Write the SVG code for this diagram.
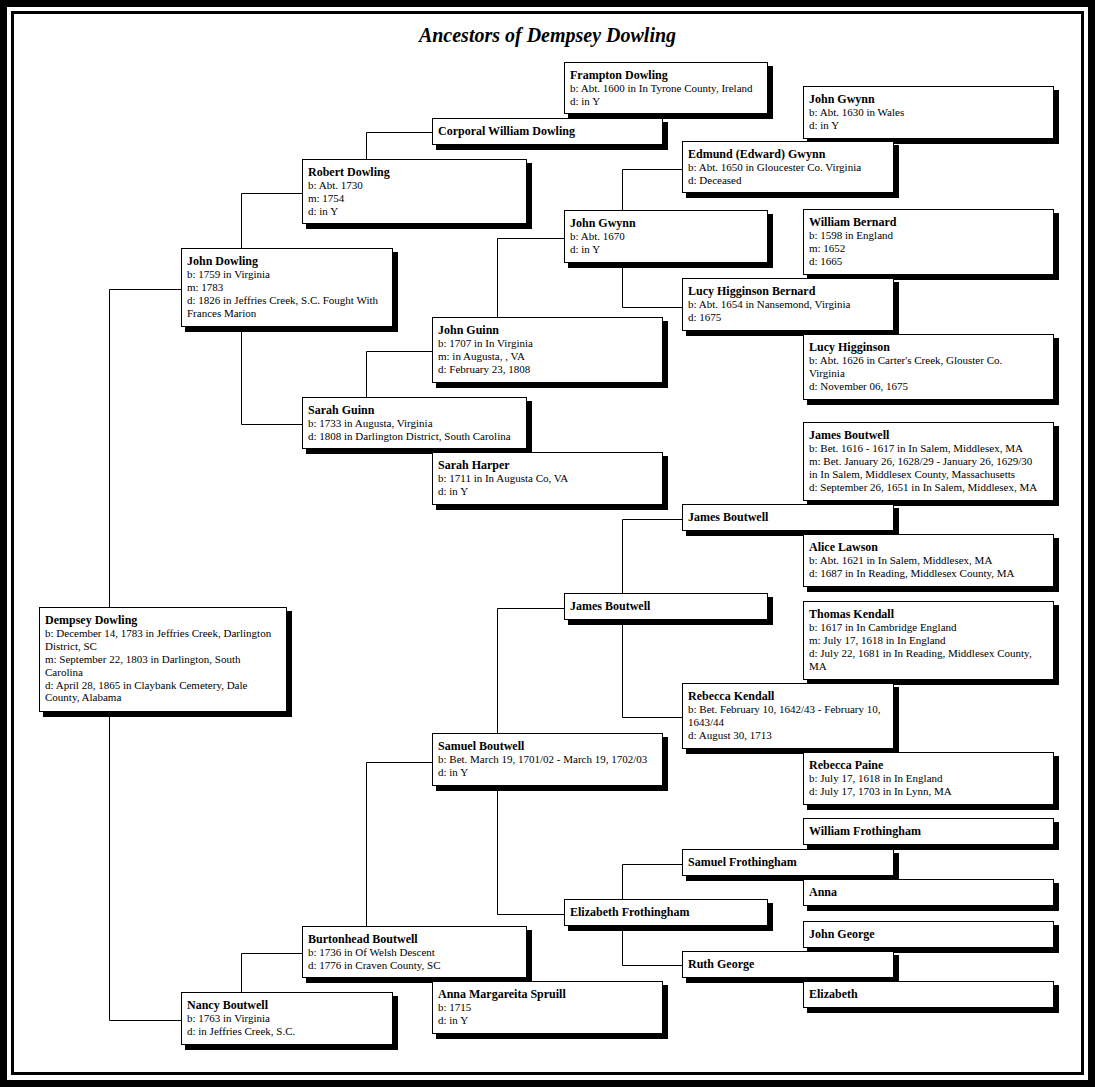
<svg xmlns="http://www.w3.org/2000/svg" width="1095" height="1087" viewBox="0 0 1095 1087">
<style>
.sh{fill:#000}
.bx{fill:#fff;stroke:#000;stroke-width:1}
.nm{font-family:"Liberation Serif","Times New Roman",serif;font-size:12px;font-weight:bold;fill:#000}
.tx{font-family:"Liberation Serif","Times New Roman",serif;font-size:11px;fill:#000}
.cn path{stroke:#000;stroke-width:1;fill:none}
.title{font-family:"Liberation Serif","Times New Roman",serif;font-size:20px;font-weight:bold;font-style:italic;fill:#000}
</style>
<rect x="0" y="0" width="1095" height="1087" fill="#fff"/>
<rect x="3.5" y="3.5" width="1088" height="1080" fill="none" stroke="#000" stroke-width="7"/>
<rect x="12.5" y="12.5" width="1070" height="1061" fill="none" stroke="#000" stroke-width="3"/>
<text class="title" x="547.5" y="42" text-anchor="middle">Ancestors of Dempsey Dowling</text>

<g id="connectors" class="cn">
<path d="M109.5 607V289.5H181"/>
<path d="M109.5 711V1020.5H182"/>
<path d="M241.5 248V193.5H302"/>
<path d="M241.5 326V424.5H302"/>
<path d="M366.5 159V132.5H432"/>
<path d="M366.5 397V351.5H432"/>
<path d="M497.5 317V238.5H564"/>
<path d="M622.5 210V169.5H682"/>
<path d="M622.5 262V307.5H682"/>
<path d="M366.5 926V762.5H432"/>
<path d="M497.5 733V608.5H564"/>
<path d="M497.5 785V914.5H564"/>
<path d="M622.5 593V519.5H682"/>
<path d="M622.5 619V717.5H682"/>
<path d="M622.5 899V864.5H682"/>
<path d="M622.5 925V965.5H682"/>
<path d="M241.5 992V953.5H302"/>
</g>

<g id="frampton-dowling" transform="translate(564,62)">
<rect class="sh" x="4" y="4" width="205" height="53"/><rect class="bx" x="0.5" y="0.5" width="203" height="51"/>
<text class="nm" x="6" y="17">Frampton Dowling</text>
<text class="tx" x="6" y="29.9">b: Abt. 1600 in In Tyrone County, Ireland</text>
<text class="tx" x="6" y="42.8">d: in Y</text>
</g>

<g id="corporal-william-dowling" transform="translate(432,118)">
<rect class="sh" x="4" y="4" width="232" height="28"/><rect class="bx" x="0.5" y="0.5" width="230" height="26"/>
<text class="nm" x="6" y="17">Corporal William Dowling</text>
</g>

<g id="john-gwynn-1630" transform="translate(803,86)">
<rect class="sh" x="4" y="4" width="252" height="54"/><rect class="bx" x="0.5" y="0.5" width="250" height="52"/>
<text class="nm" x="6" y="17">John Gwynn</text>
<text class="tx" x="6" y="29.9">b: Abt. 1630 in Wales</text>
<text class="tx" x="6" y="42.8">d: in Y</text>
</g>

<g id="edmund-gwynn" transform="translate(682,141)">
<rect class="sh" x="4" y="4" width="213" height="53"/><rect class="bx" x="0.5" y="0.5" width="211" height="51"/>
<text class="nm" x="6" y="17">Edmund (Edward) Gwynn</text>
<text class="tx" x="6" y="29.9">b: Abt. 1650 in Gloucester Co. Virginia</text>
<text class="tx" x="6" y="42.8">d: Deceased</text>
</g>

<g id="robert-dowling" transform="translate(302,159)">
<rect class="sh" x="4" y="4" width="226" height="66"/><rect class="bx" x="0.5" y="0.5" width="224" height="64"/>
<text class="nm" x="6" y="17">Robert Dowling</text>
<text class="tx" x="6" y="29.9">b: Abt. 1730</text>
<text class="tx" x="6" y="42.8">m: 1754</text>
<text class="tx" x="6" y="55.7">d: in Y</text>
</g>

<g id="william-bernard" transform="translate(803,209)">
<rect class="sh" x="4" y="4" width="252" height="67"/><rect class="bx" x="0.5" y="0.5" width="250" height="65"/>
<text class="nm" x="6" y="17">William Bernard</text>
<text class="tx" x="6" y="29.9">b: 1598 in England</text>
<text class="tx" x="6" y="42.8">m: 1652</text>
<text class="tx" x="6" y="55.7">d: 1665</text>
</g>

<g id="john-gwynn-1670" transform="translate(564,210)">
<rect class="sh" x="4" y="4" width="205" height="54"/><rect class="bx" x="0.5" y="0.5" width="203" height="52"/>
<text class="nm" x="6" y="17">John Gwynn</text>
<text class="tx" x="6" y="29.9">b: Abt. 1670</text>
<text class="tx" x="6" y="42.8">d: in Y</text>
</g>

<g id="john-dowling" transform="translate(181,248)">
<rect class="sh" x="4" y="4" width="213" height="80"/><rect class="bx" x="0.5" y="0.5" width="211" height="78"/>
<text class="nm" x="6" y="17">John Dowling</text>
<text class="tx" x="6" y="29.9">b: 1759 in Virginia</text>
<text class="tx" x="6" y="42.8">m: 1783</text>
<text class="tx" x="6" y="55.7">d: 1826 in Jeffries Creek, S.C. Fought With</text>
<text class="tx" x="6" y="68.6">Frances Marion</text>
</g>

<g id="lucy-higginson-bernard" transform="translate(682,278)">
<rect class="sh" x="4" y="4" width="213" height="54"/><rect class="bx" x="0.5" y="0.5" width="211" height="52"/>
<text class="nm" x="6" y="17">Lucy Higginson Bernard</text>
<text class="tx" x="6" y="29.9">b: Abt. 1654 in Nansemond, Virginia</text>
<text class="tx" x="6" y="42.8">d: 1675</text>
</g>

<g id="john-guinn" transform="translate(432,317)">
<rect class="sh" x="4" y="4" width="232" height="67"/><rect class="bx" x="0.5" y="0.5" width="230" height="65"/>
<text class="nm" x="6" y="17">John Guinn</text>
<text class="tx" x="6" y="29.9">b: 1707 in In Virginia</text>
<text class="tx" x="6" y="42.8">m: in Augusta, , VA</text>
<text class="tx" x="6" y="55.7">d: February 23, 1808</text>
</g>

<g id="lucy-higginson" transform="translate(803,334)">
<rect class="sh" x="4" y="4" width="252" height="67"/><rect class="bx" x="0.5" y="0.5" width="250" height="65"/>
<text class="nm" x="6" y="17">Lucy Higginson</text>
<text class="tx" x="6" y="29.9">b: Abt. 1626 in Carter's Creek, Glouster Co.</text>
<text class="tx" x="6" y="42.8">Virginia</text>
<text class="tx" x="6" y="55.7">d: November 06, 1675</text>
</g>

<g id="sarah-guinn" transform="translate(302,397)">
<rect class="sh" x="4" y="4" width="226" height="53"/><rect class="bx" x="0.5" y="0.5" width="224" height="51"/>
<text class="nm" x="6" y="17">Sarah Guinn</text>
<text class="tx" x="6" y="29.9">b: 1733 in Augusta, Virginia</text>
<text class="tx" x="6" y="42.8">d: 1808 in Darlington District, South Carolina</text>
</g>

<g id="james-boutwell-1616" transform="translate(803,422)">
<rect class="sh" x="4" y="4" width="252" height="80"/><rect class="bx" x="0.5" y="0.5" width="250" height="78"/>
<text class="nm" x="6" y="17">James Boutwell</text>
<text class="tx" x="6" y="29.9">b: Bet. 1616 - 1617 in In Salem, Middlesex, MA</text>
<text class="tx" x="6" y="42.8">m: Bet. January 26, 1628/29 - January 26, 1629/30</text>
<text class="tx" x="6" y="55.7">in In Salem, Middlesex County, Massachusetts</text>
<text class="tx" x="6" y="68.6">d: September 26, 1651 in In Salem, Middlesex, MA</text>
</g>

<g id="sarah-harper" transform="translate(432,452)">
<rect class="sh" x="4" y="4" width="232" height="54"/><rect class="bx" x="0.5" y="0.5" width="230" height="52"/>
<text class="nm" x="6" y="17">Sarah Harper</text>
<text class="tx" x="6" y="29.9">b: 1711 in In Augusta Co, VA</text>
<text class="tx" x="6" y="42.8">d: in Y</text>
</g>

<g id="james-boutwell-gen3" transform="translate(682,504)">
<rect class="sh" x="4" y="4" width="213" height="28"/><rect class="bx" x="0.5" y="0.5" width="211" height="26"/>
<text class="nm" x="6" y="17">James Boutwell</text>
</g>

<g id="alice-lawson" transform="translate(803,534)">
<rect class="sh" x="4" y="4" width="252" height="54"/><rect class="bx" x="0.5" y="0.5" width="250" height="52"/>
<text class="nm" x="6" y="17">Alice Lawson</text>
<text class="tx" x="6" y="29.9">b: Abt. 1621  in In Salem, Middlesex, MA</text>
<text class="tx" x="6" y="42.8">d: 1687 in In Reading, Middlesex County, MA</text>
</g>

<g id="james-boutwell-gen2" transform="translate(564,593)">
<rect class="sh" x="4" y="4" width="205" height="28"/><rect class="bx" x="0.5" y="0.5" width="203" height="26"/>
<text class="nm" x="6" y="17">James Boutwell</text>
</g>

<g id="thomas-kendall" transform="translate(803,601)">
<rect class="sh" x="4" y="4" width="252" height="80"/><rect class="bx" x="0.5" y="0.5" width="250" height="78"/>
<text class="nm" x="6" y="17">Thomas Kendall</text>
<text class="tx" x="6" y="29.9">b: 1617 in In Cambridge England</text>
<text class="tx" x="6" y="42.8">m: July 17, 1618 in In England</text>
<text class="tx" x="6" y="55.7">d: July 22, 1681 in In Reading, Middlesex County,</text>
<text class="tx" x="6" y="68.6">MA</text>
</g>

<g id="dempsey-dowling" transform="translate(39,607)">
<rect class="sh" x="4" y="4" width="249" height="106"/><rect class="bx" x="0.5" y="0.5" width="247" height="104"/>
<text class="nm" x="6" y="17">Dempsey Dowling</text>
<text class="tx" x="6" y="29.9">b: December 14, 1783 in Jeffries Creek, Darlington</text>
<text class="tx" x="6" y="42.8">District, SC</text>
<text class="tx" x="6" y="55.7">m: September 22, 1803 in Darlington, South</text>
<text class="tx" x="6" y="68.6">Carolina</text>
<text class="tx" x="6" y="81.5">d: April 28, 1865 in Claybank Cemetery, Dale</text>
<text class="tx" x="6" y="94.4">County, Alabama</text>
</g>

<g id="rebecca-kendall" transform="translate(682,683)">
<rect class="sh" x="4" y="4" width="213" height="67"/><rect class="bx" x="0.5" y="0.5" width="211" height="65"/>
<text class="nm" x="6" y="17">Rebecca Kendall</text>
<text class="tx" x="6" y="29.9">b: Bet. February 10, 1642/43 - February 10,</text>
<text class="tx" x="6" y="42.8">1643/44</text>
<text class="tx" x="6" y="55.7">d: August 30, 1713</text>
</g>

<g id="samuel-boutwell" transform="translate(432,733)">
<rect class="sh" x="4" y="4" width="232" height="54"/><rect class="bx" x="0.5" y="0.5" width="230" height="52"/>
<text class="nm" x="6" y="17">Samuel Boutwell</text>
<text class="tx" x="6" y="29.9">b: Bet. March 19, 1701/02 - March 19, 1702/03</text>
<text class="tx" x="6" y="42.8">d: in Y</text>
</g>

<g id="rebecca-paine" transform="translate(803,752)">
<rect class="sh" x="4" y="4" width="252" height="54"/><rect class="bx" x="0.5" y="0.5" width="250" height="52"/>
<text class="nm" x="6" y="17">Rebecca Paine</text>
<text class="tx" x="6" y="29.9">b: July 17, 1618 in In England</text>
<text class="tx" x="6" y="42.8">d: July 17, 1703 in In Lynn, MA</text>
</g>

<g id="william-frothingham" transform="translate(803,818)">
<rect class="sh" x="4" y="4" width="252" height="28"/><rect class="bx" x="0.5" y="0.5" width="250" height="26"/>
<text class="nm" x="6" y="17">William Frothingham</text>
</g>

<g id="samuel-frothingham" transform="translate(682,849)">
<rect class="sh" x="4" y="4" width="213" height="28"/><rect class="bx" x="0.5" y="0.5" width="211" height="26"/>
<text class="nm" x="6" y="17">Samuel Frothingham</text>
</g>

<g id="anna" transform="translate(803,879)">
<rect class="sh" x="4" y="4" width="252" height="28"/><rect class="bx" x="0.5" y="0.5" width="250" height="26"/>
<text class="nm" x="6" y="17">Anna</text>
</g>

<g id="elizabeth-frothingham" transform="translate(564,899)">
<rect class="sh" x="4" y="4" width="205" height="28"/><rect class="bx" x="0.5" y="0.5" width="203" height="26"/>
<text class="nm" x="6" y="17">Elizabeth Frothingham</text>
</g>

<g id="john-george" transform="translate(803,921)">
<rect class="sh" x="4" y="4" width="252" height="28"/><rect class="bx" x="0.5" y="0.5" width="250" height="26"/>
<text class="nm" x="6" y="17">John George</text>
</g>

<g id="burtonhead-boutwell" transform="translate(302,926)">
<rect class="sh" x="4" y="4" width="226" height="53"/><rect class="bx" x="0.5" y="0.5" width="224" height="51"/>
<text class="nm" x="6" y="17">Burtonhead Boutwell</text>
<text class="tx" x="6" y="29.9">b: 1736 in Of Welsh Descent</text>
<text class="tx" x="6" y="42.8">d: 1776 in Craven County, SC</text>
</g>

<g id="ruth-george" transform="translate(682,951)">
<rect class="sh" x="4" y="4" width="213" height="28"/><rect class="bx" x="0.5" y="0.5" width="211" height="26"/>
<text class="nm" x="6" y="17">Ruth George</text>
</g>

<g id="elizabeth" transform="translate(803,981)">
<rect class="sh" x="4" y="4" width="252" height="28"/><rect class="bx" x="0.5" y="0.5" width="250" height="26"/>
<text class="nm" x="6" y="17">Elizabeth</text>
</g>

<g id="anna-margareita-spruill" transform="translate(432,981)">
<rect class="sh" x="4" y="4" width="232" height="54"/><rect class="bx" x="0.5" y="0.5" width="230" height="52"/>
<text class="nm" x="6" y="17">Anna Margareita Spruill</text>
<text class="tx" x="6" y="29.9">b: 1715</text>
<text class="tx" x="6" y="42.8">d: in Y</text>
</g>

<g id="nancy-boutwell" transform="translate(181,992)">
<rect class="sh" x="4" y="4" width="213" height="54"/><rect class="bx" x="0.5" y="0.5" width="211" height="52"/>
<text class="nm" x="6" y="17">Nancy Boutwell</text>
<text class="tx" x="6" y="29.9">b: 1763 in Virginia</text>
<text class="tx" x="6" y="42.8">d: in Jeffries Creek, S.C.</text>
</g>
</svg>
